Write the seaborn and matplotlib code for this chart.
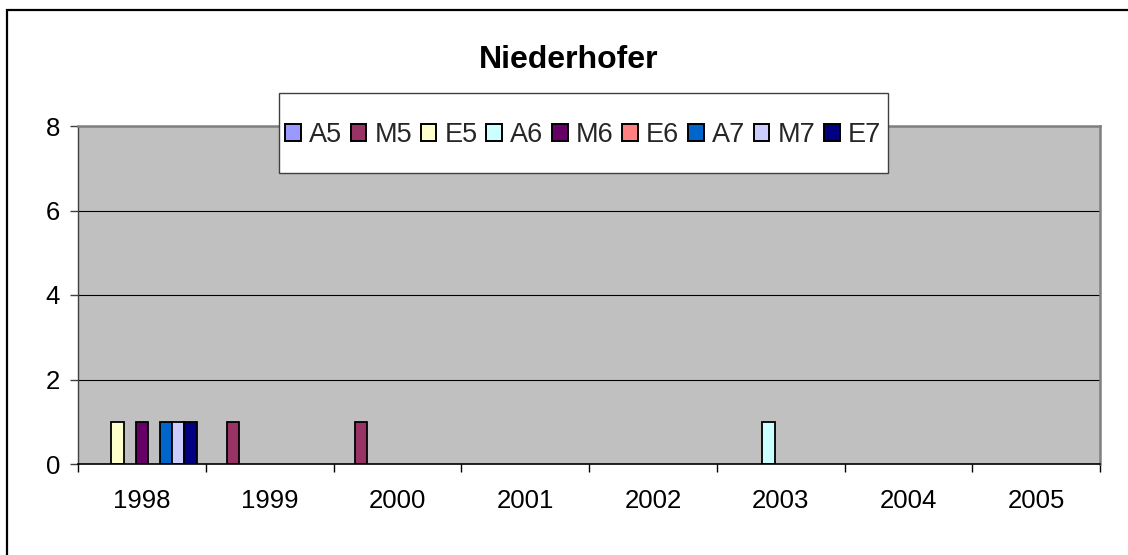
import matplotlib
matplotlib.use("Agg")
import matplotlib.pyplot as plt
from matplotlib.patches import Rectangle
import seaborn as sns
import pandas as pd

# Category labels and series names
years = ["1998", "1999", "2000", "2001", "2002", "2003", "2004", "2005"]
series = ["A5", "M5", "E5", "A6", "M6", "E6", "A7", "M7", "E7"]

# Counts per series, one value per year
A5 = [0, 0, 0, 0, 0, 0, 0, 0]
M5 = [0, 1, 1, 0, 0, 0, 0, 0]
E5 = [1, 0, 0, 0, 0, 0, 0, 0]
A6 = [0, 0, 0, 0, 0, 1, 0, 0]
M6 = [1, 0, 0, 0, 0, 0, 0, 0]
E6 = [0, 0, 0, 0, 0, 0, 0, 0]
A7 = [1, 0, 0, 0, 0, 0, 0, 0]
M7 = [1, 0, 0, 0, 0, 0, 0, 0]
E7 = [1, 0, 0, 0, 0, 0, 0, 0]

colors = ["#9999FF", "#993366", "#FFFFCC", "#CCFFFF", "#660066",
          "#FF8080", "#0066CC", "#CCCCFF", "#000080"]

values = {"A5": A5, "M5": M5, "E5": E5, "A6": A6, "M6": M6,
          "E6": E6, "A7": A7, "M7": M7, "E7": E7}
rows = [{"Year": y, "Series": s, "Count": v}
        for s in series for y, v in zip(years, values[s])]
df = pd.DataFrame(rows)

sns.set_theme(style="white")
plt.rcParams["font.family"] = ["Liberation Sans", "DejaVu Sans"]

W, H = 1128, 555
fig = plt.figure(figsize=(W / 100, H / 100), dpi=100)
fig.patch.set_facecolor("white")

left, right, top, bottom = 78, 1100, 126, 464
ax = fig.add_axes([left / W, 1 - bottom / H, (right - left) / W, (bottom - top) / H])

sns.barplot(data=df, x="Year", y="Count", hue="Series", order=years,
            hue_order=series, palette=colors, width=0.857, gap=0,
            edgecolor="black", linewidth=1.3, saturation=1,
            errorbar=None, ax=ax)

# hide outlines of empty bars
for p in ax.patches:
    if p.get_height() == 0:
        p.set_linewidth(0)

handles, labels = ax.get_legend_handles_labels()
if ax.get_legend() is not None:
    ax.get_legend().remove()

ax.set_facecolor("#C0C0C0")
ax.set_xlim(-0.5, len(years) - 0.5)
ax.set_ylim(0, 8)
ax.set_yticks([0, 2, 4, 6, 8])
ax.set_xlabel("")
ax.set_ylabel("")
ax.set_axisbelow(True)
ax.yaxis.grid(True, color="black", linewidth=0.8)
ax.xaxis.grid(False)

for side in ("top", "right"):
    ax.spines[side].set_color("#808080")
    ax.spines[side].set_linewidth(1.8)
ax.spines["left"].set_color("#404040")
ax.spines["left"].set_linewidth(1.0)
ax.spines["bottom"].set_color("black")
ax.spines["bottom"].set_linewidth(1.2)
ax.spines["bottom"].set_zorder(3)

ax.set_xticks(range(len(years)))
ax.set_xticklabels(years)
ax.set_xticks([i - 0.5 for i in range(len(years) + 1)], minor=True)
ax.tick_params(axis="x", which="major", length=0, pad=18, labelsize=18.5,
               labelcolor="black")
ax.tick_params(axis="x", which="minor", length=5.5, width=1.0,
               color="black", direction="out", bottom=True)
ax.tick_params(axis="y", which="major", length=6, width=1.0, pad=7,
               color="#404040", labelsize=18.5, labelcolor="black",
               direction="out", left=True)

# Title
fig.text(569 / W, 1 - 68 / H, "Niederhofer", ha="center", va="baseline",
         fontsize=23, fontweight="bold", color="black")

# Legend box and legend
legend_box = Rectangle((279 / W, 1 - 173 / H), (888 - 279) / W, 80 / H,
                       transform=fig.transFigure, facecolor="white",
                       edgecolor="#404040", linewidth=1.0, zorder=4)
fig.add_artist(legend_box)
leg = fig.legend(handles, labels, loc="center",
                 bbox_to_anchor=(583 / W, 1 - 135 / H), ncol=9,
                 frameon=False, fontsize=19.5, handlelength=0.58,
                 handleheight=0.58, handletextpad=0.3, columnspacing=0.32,
                 borderpad=0.2)
leg.set_zorder(5)
for h in leg.legend_handles:
    h.set_edgecolor("black")
    h.set_linewidth(1.4)

# Chart border
border = Rectangle((6.5 / W, -0.2), 1.2, 1.2 - 10 / H,
                   transform=fig.transFigure, facecolor="none",
                   edgecolor="black", linewidth=1.6, zorder=6)
fig.add_artist(border)

fig.savefig("out.png", dpi=100)
